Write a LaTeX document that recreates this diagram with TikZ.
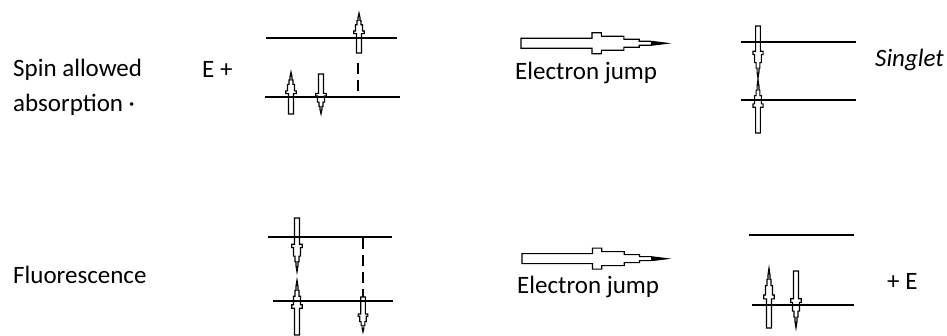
\documentclass[tikz,border=0pt]{standalone}
\usepackage{fontspec}
\setmainfont{Carlito}
\tikzset{
  lbl/.style={inner sep=0pt, anchor=base west, font=\fontsize{25}{30}\selectfont},
  level/.style={line width=1.4pt},
  arrowline/.style={line width=1.1pt, line join=miter},
  vdash/.style={line width=1.2pt, dash pattern=on 11pt off 6pt},
  jump/.pic={
    \draw[arrowline] (0,-1) -- (0.486,-1) -- (0.486,-2.1) -- (0.55,-2.1) -- (0.55,-1.4)
      -- (0.705,-1.4) -- (0.705,-0.8) -- (0.81,-0.8) -- (0.81,-0.4) -- (0.89,-0.4)
      -- (1,0) -- (0.89,0.4) -- (0.81,0.4) -- (0.81,0.8) -- (0.705,0.8) -- (0.705,1.4)
      -- (0.55,1.4) -- (0.55,2.1) -- (0.486,2.1) -- (0.486,1) -- (0,1) -- cycle;
    \fill (0.89,-0.4) -- (1,0) -- (0.89,0.4) -- cycle;
  }
}
\begin{document}
\begin{tikzpicture}[x=1pt,y=-1pt]
\useasboundingbox (0,0) rectangle (947,336);
% ---------- top row ----------
\node[lbl] (spin) at (13,77) {Spin allowed};
\node[lbl] (absorp) at (13,112) {absorption ·};
\node[lbl] (eplus) at (202,78) {E +};
% levels
\coordinate (t1a) at (266,38); \coordinate (t1b) at (397,38);
\coordinate (t2a) at (265,97); \coordinate (t2b) at (400,97);
\draw[level] (t1a) -- (t1b);
\draw[level] (t2a) -- (t2b);
\coordinate (dt1) at (358,63); \coordinate (dt2) at (358,91);
\draw[vdash] (dt1) -- (dt2);
\pic[shift={(359,53)}, rotate=90, xscale=40, yscale=2.5] {jump};
\pic[shift={(291,114)}, rotate=90, xscale=42, yscale=2.5] {jump};
\pic[shift={(321,74)}, rotate=-90, xscale=40, yscale=2.5] {jump};
% electron jump arrow
\pic[shift={(521,43.3)}, xscale=146, yscale=5] {jump};
\node[lbl] (ej1) at (515,80) {Electron jump};
% singlet
\coordinate (s1a) at (741,42); \coordinate (s1b) at (856,42);
\coordinate (s2a) at (741,100); \coordinate (s2b) at (856,100);
\draw[level] (s1a) -- (s1b);
\draw[level] (s2a) -- (s2b);
\pic[shift={(758,26)}, rotate=-90, xscale=52, yscale=2.4] {jump};
\pic[shift={(758,133)}, rotate=90, xscale=53, yscale=2.4] {jump};
\node[lbl, font=\fontsize{25}{30}\selectfont\itshape] (singlet) at (875,67) {Singlet};
% ---------- bottom row ----------
\node[lbl] (fluor) at (13,284) {Fluorescence};
\coordinate (b1a) at (268,237); \coordinate (b1b) at (392,237);
\coordinate (b2a) at (273,301); \coordinate (b2b) at (393,301);
\draw[level] (b1a) -- (b1b);
\draw[level] (b2a) -- (b2b);
\coordinate (db1) at (363,238); \coordinate (db2) at (363,297);
\draw[vdash] (db1) -- (db2);
\pic[shift={(297,218)}, rotate=-90, xscale=54, yscale=2.5] {jump};
\pic[shift={(297,335)}, rotate=90, xscale=55, yscale=2.5] {jump};
\pic[shift={(363,297)}, rotate=-90, xscale=35, yscale=2.3] {jump};
% electron jump arrow
\pic[shift={(522,258.7)}, xscale=145, yscale=5] {jump};
\node[lbl] (ej2) at (517,294) {Electron jump};
% right levels
\coordinate (r1a) at (749,235); \coordinate (r1b) at (854,235);
\coordinate (r2a) at (752,305); \coordinate (r2b) at (854,305);
\draw[level] (r1a) -- (r1b);
\draw[level] (r2a) -- (r2b);
\pic[shift={(769,328)}, rotate=90, xscale=60, yscale=2.5] {jump};
\pic[shift={(796,271)}, rotate=-90, xscale=57, yscale=2.5] {jump};
\node[lbl] (pluse) at (887,290) {+ E};
\end{tikzpicture}
\end{document}
